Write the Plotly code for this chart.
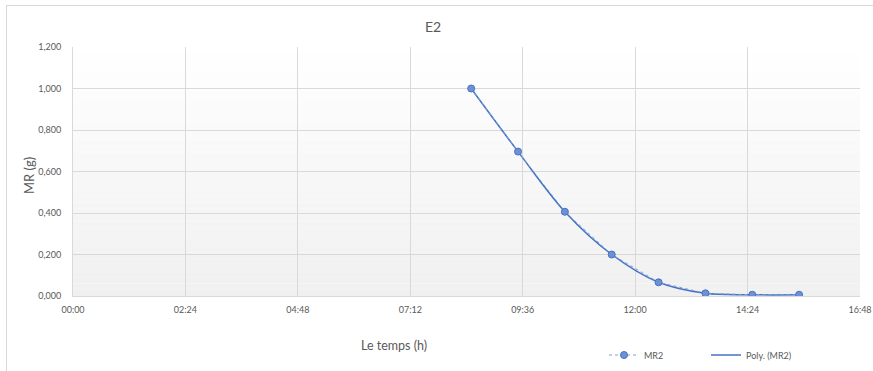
import plotly.graph_objects as go

# Measurement times (hours since 00:00) and moisture values MR2 (g)
hours = [8.5, 9.5, 10.5, 11.5, 12.5, 13.5, 14.5, 15.5]
mr2 = [1.000, 0.696, 0.406, 0.200, 0.066, 0.013, 0.006, 0.006]

# Axis ticks: every 2h24 from 00:00 to 16:48
x_tickvals = [0, 2.4, 4.8, 7.2, 9.6, 12.0, 14.4, 16.8]
x_ticktext = ["00:00", "02:24", "04:48", "07:12", "09:36", "12:00", "14:24", "16:48"]
y_tickvals = [0, 0.2, 0.4, 0.6, 0.8, 1.0, 1.2]

BLUE = "#4472C4"
TEXT = "#595959"
GRID = "#d9d9d9"
FONT = "Lato, 'Open Sans', sans-serif"

W, H = 873, 371
ML, MR, MT, MB = 73, 13, 47, 75
plot_w = W - ML - MR
plot_h = H - MT - MB


def px_to_paper_x(px):
    return (px - ML) / plot_w


def px_to_paper_y(py):
    return (H - MB - py) / plot_h


fig = go.Figure()

# Smoothed trend curve through the series
fig.add_trace(go.Scatter(
    x=hours, y=mr2, mode="lines", name="Poly. (MR2)",
    line=dict(color=BLUE, width=1.5, shape="spline", smoothing=1.0),
    legend="legend2",
))

# Measured points
fig.add_trace(go.Scatter(
    x=hours, y=mr2, mode="lines+markers", name="MR2",
    line=dict(color="#7f9fd8", width=1, dash="dot"),
    marker=dict(size=7, color="#6f91d3", line=dict(color=BLUE, width=1)),
    legend="legend",
))

# Vertical gradient for the plot background (white at top, light grey at bottom)
shapes = []
n = 40
for i in range(n):
    t = (i + 0.5) / n  # 0 at bottom, 1 at top
    v = int(round(240 + (255 - 240) * t))
    shapes.append(dict(
        type="rect", xref="paper", yref="paper",
        x0=0, x1=1, y0=i / n, y1=(i + 1) / n,
        fillcolor=f"rgb({v},{v},{v})", line=dict(width=0), layer="below",
    ))

# Chart frame: top and left edges
shapes.append(dict(type="line", xref="paper", yref="paper",
                   x0=px_to_paper_x(6), x1=px_to_paper_x(873),
                   y0=px_to_paper_y(5.5), y1=px_to_paper_y(5.5),
                   line=dict(color=GRID, width=1)))
shapes.append(dict(type="line", xref="paper", yref="paper",
                   x0=px_to_paper_x(6.5), x1=px_to_paper_x(6.5),
                   y0=px_to_paper_y(5.5), y1=px_to_paper_y(371),
                   line=dict(color=GRID, width=1)))

annotations = [
    dict(text="E2", xref="paper", yref="paper",
         x=px_to_paper_x(433), y=px_to_paper_y(26), xanchor="center", yanchor="middle",
         showarrow=False, font=dict(family=FONT, size=14, color=TEXT)),
    dict(text="MR (g)", xref="paper", yref="paper",
         x=px_to_paper_x(29), y=px_to_paper_y(176), xanchor="center", yanchor="middle",
         textangle=-90, showarrow=False, font=dict(family=FONT, size=13, color=TEXT)),
    dict(text="Le temps (h)", xref="paper", yref="paper",
         x=px_to_paper_x(394), y=px_to_paper_y(345), xanchor="center", yanchor="middle",
         showarrow=False, font=dict(family=FONT, size=12.5, color=TEXT)),
]

legend_common = dict(
    orientation="h", xanchor="left", yanchor="middle",
    font=dict(family=FONT, size=9, color=TEXT),
    bgcolor="rgba(0,0,0,0)", itemwidth=30,
)

fig.update_layout(
    width=W, height=H,
    margin=dict(l=ML, r=MR, t=MT, b=MB, pad=0, autoexpand=False),
    paper_bgcolor="white", plot_bgcolor="rgba(0,0,0,0)",
    separators=",.",
    font=dict(family=FONT, size=9, color=TEXT),
    shapes=shapes, annotations=annotations,
    showlegend=True,
    legend=dict(x=px_to_paper_x(604), y=px_to_paper_y(355), **legend_common),
    legend2=dict(x=px_to_paper_x(706), y=px_to_paper_y(355), **legend_common),
)

fig.update_xaxes(
    range=[0, 16.8], tickvals=x_tickvals, ticktext=x_ticktext,
    showgrid=True, gridcolor=GRID, gridwidth=1,
    showline=True, linecolor=GRID, linewidth=1, mirror=False,
    zeroline=False, ticks="", ticklabelstandoff=5, automargin=False,
    tickfont=dict(family=FONT, size=9, color=TEXT),
)
fig.update_yaxes(
    range=[0, 1.2], tickvals=y_tickvals, tickformat=".3f",
    showgrid=True, gridcolor=GRID, gridwidth=1,
    showline=True, linecolor=GRID, linewidth=1,
    zeroline=False, ticks="", ticklabelstandoff=9, automargin=False,
    tickfont=dict(family=FONT, size=9, color=TEXT),
)

fig.write_html("out.html")
